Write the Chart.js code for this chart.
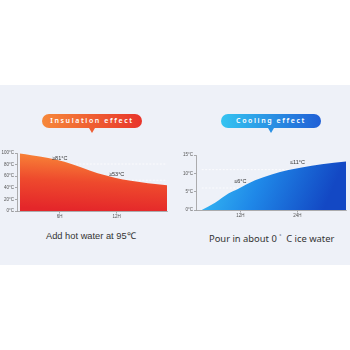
<!DOCTYPE html>
<html>
<head>
<meta charset="utf-8">
<script src="https://cdn.jsdelivr.net/npm/chart.js@4.4.1/dist/chart.umd.min.js"></script>
<style>
    html, body { margin: 0; padding: 0; width: 350px; height: 350px; background: #fff; overflow: hidden; }
    .band { position: absolute; left: 0; top: 85px; width: 350px; height: 180px; background: #eef1f8; }
    .pill { position: absolute; top: 114px; width: 100px; height: 14px; border-radius: 7px; color: #fff;
            font: 600 7px "Noto Sans", sans-serif; letter-spacing: 1.6px; text-align: center; line-height: 14px; }
    .pill:after { content: ''; position: absolute; left: 47px; top: 14px; border-left: 3px solid transparent;
                  border-right: 3px solid transparent; border-top: 5px solid; }
    #hotPill { left: 42px; background: linear-gradient(90deg, #f6883a, #e8352b); }
    #hotPill:after { border-top-color: #ef5e33; }
    #coldPill { left: 221px; background: linear-gradient(90deg, #35c4f1, #1f5fd6); }
    #coldPill:after { border-top-color: #2990e4; }
    .sub { position: absolute; top: 230px; color: #333; white-space: pre; line-height: 12px; }
    #hotSub { left: 46px; font-family: "Liberation Sans", sans-serif; font-size: 9.3px; }
    #coldSub { left: 209px; font-family: "Noto Sans", sans-serif; font-size: 9.4px; }
    canvas { position: absolute; }
    #hot { left: 0; top: 148px; }
    #cold { left: 176px; top: 150px; }
</style>
</head>
<body>
<div class="band"></div>
<div class="pill" id="hotPill">Insulation effect</div>
<div class="pill" id="coldPill">Cooling effect</div>
<canvas id="hot" width="172" height="75"></canvas>
<canvas id="cold" width="174" height="72"></canvas>
<div class="sub" id="hotSub">Add hot water at 95℃</div>
<div class="sub" id="coldSub">Pour in about 0 <sup style="font-size:5px">°</sup>  C ice water</div>
<script>
// hot water (hours, °C)
const hotRange = [1.5, 17.3];
const hotHours = [1.8, 3.0, 4.8, 6.5, 8.3, 10.0, 11.8, 13.5, 15.3, 17.3];
const hotTemps = [99, 96, 91.5, 85, 75, 65, 57.5, 52, 48, 44.5];
const hotTicksX = [6, 12];
const hotMarks = [81, 53];      // dashed lines + labels
const hotMarkHours = [6, 12];

// ice water
const coldRange = [2.7, 34.2];
const coldHours = [3.9, 6.7, 9.5, 11.6, 15.1, 18.6, 22.1, 24.9, 29.1, 34.2];
const coldTemps = [0, 2.0, 4.5, 5.8, 8.1, 9.7, 10.9, 11.6, 12.5, 13.2];
const coldTicksX = [12, 24];
const coldMarks = [6, 11];
const coldMarkHours = [12, 24];

const tickFont = { family: 'Liberation Sans', size: 4.5 };

// draws "≥81°C" style notes above the points
const notesPlugin = {
    id: 'notes',
    afterDatasetsDraw(chart, args, opts) {
        const ctx = chart.ctx;
        const xs = chart.scales.x, ys = chart.scales.y;
        ctx.save();
        ctx.font = '5.5px "Liberation Sans"';
        ctx.fillStyle = '#333';
        ctx.textAlign = 'center';
        ctx.textBaseline = 'bottom';
        opts.hours.forEach((h, i) => {
            ctx.fillText(opts.prefix + opts.marks[i] + '°C', xs.getPixelForValue(h), ys.getPixelForValue(opts.marks[i]) - opts.gap);
        });
        ctx.restore();
    }
};

const makeChart = (id, range, hours, temps, ticksX, marks, markHours, prefix, yMax, yStep, yWidth, colors, dir, padRight, gap) => {
    const dashed = marks.map(m => ({
        data: [{ x: hours[0], y: m }, { x: hours[hours.length - 1], y: m }],
        borderColor: 'rgba(255,255,255,0.85)',
        borderWidth: 0.9,
        borderDash: [2, 1.5],
        pointRadius: 0,
        fill: false
    }));
    return new Chart(document.getElementById(id), {
        type: 'line',
        data: {
            datasets: [{
                data: hours.map((h, i) => ({ x: h, y: temps[i] })),
                borderWidth: 0,
                pointRadius: 0,
                cubicInterpolationMode: 'monotone',
                fill: 'origin',
                backgroundColor: (c) => {
                    const a = c.chart.chartArea;
                    if (!a) return colors[colors.length - 1];
                    const g = c.chart.ctx.createLinearGradient(a.left + a.width * dir[0], a.top, a.left + a.width * dir[1], a.bottom);
                    colors.forEach((col, i) => g.addColorStop(i / (colors.length - 1), col));
                    return g;
                }
            }].concat(dashed)
        },
        options: {
            responsive: false,
            animation: false,
            layout: { padding: { top: 5, right: padRight, left: 0, bottom: 0 } },
            plugins: {
                legend: { display: false },
                tooltip: { enabled: false },
                notes: { hours: markHours, marks: marks, prefix: prefix, gap: gap }
            },
            scales: {
                x: {
                    type: 'linear',
                    min: range[0], max: range[1],
                    afterBuildTicks: (s) => { s.ticks = ticksX.map(v => ({ value: v })); },
                    afterFit: (s) => { s.height = 12; },
                    ticks: { font: tickFont, color: '#555', padding: 1, maxRotation: 0, callback: v => v + 'H' },
                    grid: { display: true, drawOnChartArea: false, tickLength: 2.5, color: '#777', lineWidth: 0.6 },
                    border: { display: true, color: '#999', width: 0.8 }
                },
                y: {
                    min: 0, max: yMax,
                    afterFit: (s) => { s.width = yWidth; },
                    ticks: { stepSize: yStep, font: tickFont, color: '#555', padding: 1, callback: v => v + '°C' },
                    grid: { display: true, drawOnChartArea: false, tickLength: 2, color: '#777', lineWidth: 0.6 },
                    border: { display: true, color: '#999', width: 0.8 }
                }
            }
        },
        plugins: [notesPlugin]
    });
};

makeChart('hot', hotRange, hotHours, hotTemps, hotTicksX, hotMarks, hotMarkHours, '≥', 100, 20, 17,
    ['#f98a38', '#ee4a2d', '#e4262a'], [0.5, 0.48], 5, 3);
makeChart('cold', coldRange, coldHours, coldTemps, coldTicksX, coldMarks, coldMarkHours, '≤', 15, 5, 20,
    ['#3ccaf7', '#1f88e8', '#1348c4'], [0, 0.85], 4, 4);
</script>
</body>
</html>
